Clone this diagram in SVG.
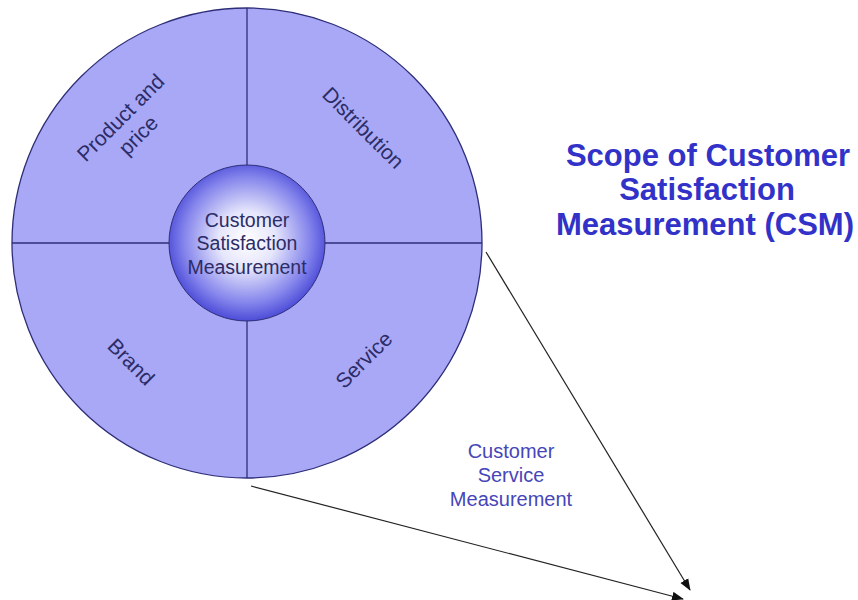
<svg xmlns="http://www.w3.org/2000/svg" width="858" height="600" viewBox="0 0 858 600">
<defs>
<radialGradient id="ball" cx="50%" cy="48%" r="52%">
<stop offset="0" stop-color="#ffffff"/>
<stop offset="0.35" stop-color="#e6e6fc"/>
<stop offset="0.78" stop-color="#8484ec"/>
<stop offset="1" stop-color="#4c4cd8"/>
</radialGradient>
<marker id="ah" viewBox="0 0 12 10" refX="11" refY="5" markerWidth="12" markerHeight="10" markerUnits="userSpaceOnUse" orient="auto">
<path d="M0,0.5 L12,5 L0,9.5 Z" fill="#111"/>
</marker>
<style>
.lbl{font-family:"Liberation Sans",Arial,sans-serif;font-size:21px;fill:#2c2c66;text-anchor:middle}
.in{font-family:"Liberation Sans",Arial,sans-serif;font-size:19.5px;fill:#2c2c66;text-anchor:middle}
.csm{font-family:"Liberation Sans",Arial,sans-serif;font-size:20px;fill:#4646b8;text-anchor:middle}
.title{font-family:"Liberation Sans",Arial,sans-serif;font-size:31px;font-weight:bold;fill:#3232c8;text-anchor:middle}
.div{stroke:#2e2e78;stroke-width:1.3}
.conn{stroke:#222;stroke-width:1.2;fill:none;marker-end:url(#ah)}
</style>
</defs>
<rect width="858" height="600" fill="#ffffff"/>
<g id="outer-circle">
<circle cx="247" cy="243" r="235" fill="#a8a8f6" stroke="#2e2e78" stroke-width="1.3"/>
<line class="div" x1="247" y1="8" x2="247" y2="478"/>
<line class="div" x1="12" y1="243" x2="482" y2="243"/>
</g>
<g id="product-and-price">
<g transform="translate(130,127) rotate(-45)">
<text class="lbl" x="0" y="-6">Product and</text>
<text class="lbl" x="0" y="19">price</text>
</g>
</g>
<g id="distribution">
<text class="lbl" transform="translate(363,128) rotate(45)" x="0" y="7">Distribution</text>
</g>
<g id="brand">
<text class="lbl" transform="translate(131,362) rotate(45)" x="0" y="7">Brand</text>
</g>
<g id="service">
<text class="lbl" transform="translate(364,360) rotate(-45)" x="0" y="7">Service</text>
</g>
<g id="csm-center">
<circle cx="247" cy="243" r="78" fill="url(#ball)" stroke="#2e2e78" stroke-width="1"/>
<text class="in" x="247" y="227">Customer</text>
<text class="in" x="247" y="250">Satisfaction</text>
<text class="in" x="247" y="274">Measurement</text>
</g>
<g id="title">
<text class="title" x="708" y="166">Scope of Customer</text>
<text class="title" x="707" y="200">Satisfaction</text>
<text class="title" x="705" y="235">Measurement (CSM)</text>
</g>
<g id="connectors">
<line class="conn" x1="486" y1="252" x2="690" y2="590"/>
<line class="conn" x1="251" y1="486" x2="683" y2="599"/>
</g>
<g id="customer-service-measurement">
<text class="csm" x="511" y="458">Customer</text>
<text class="csm" x="511" y="482">Service</text>
<text class="csm" x="511" y="506">Measurement</text>
</g>
</svg>
